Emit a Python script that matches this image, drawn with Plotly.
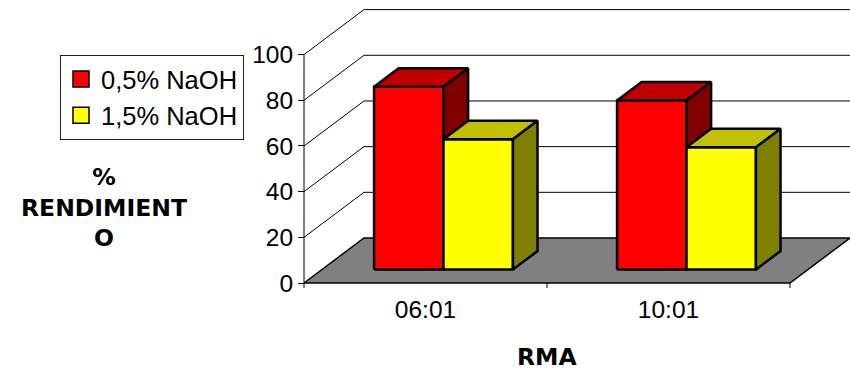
import plotly.graph_objects as go

# ---- data -------------------------------------------------------------
categories = ["06:01", "10:01"]
series_names = ["0,5% NaOH", "1,5% NaOH"]
naoh_05 = [80.0, 74.0]
naoh_15 = [57.0, 53.5]
y_ticks = [0, 20, 40, 60, 80, 100]
x_title = "RMA"
y_title_lines = ["%", "RENDIMIENT", "O"]

# face colours per series: front, top, side
front_colors = ["#FF0000", "#FFFF00"]
top_colors = ["#C00000", "#C0C000"]
side_colors = ["#800000", "#808000"]

# ---- page / projection layout -----------------------------------------
W, H = 850, 372
PLOT_L, PLOT_R, PLOT_T, PLOT_B = 300, 850, 4, 290
AXIS_PX = 304        # pixel column of the left category boundary
CAT_PX = 243         # pixel width of one category slot
ZERO_PX = 283        # pixel row of value 0 on the front plane
UNIT_PX = 2.284      # pixels per value unit
DEPTH_DX_PX, DEPTH_DY_PX = 60, 45   # oblique depth offset of the back wall

DX = DEPTH_DX_PX / CAT_PX
DY = DEPTH_DY_PX / UNIT_PX

x_lo = -0.5 - (AXIS_PX - PLOT_L) / CAT_PX
x_hi = -0.5 + (PLOT_R - AXIS_PX) / CAT_PX
y_lo = -(PLOT_B - ZERO_PX) / UNIT_PX
y_hi = (ZERO_PX - PLOT_T) / UNIT_PX

n_cat = len(categories)
x_left, x_right = -0.5, n_cat - 0.5
bar_w = 1.0 / (2 + 1.5)          # two bars + 150% gap per slot
depth_front, depth_back = 0.30, 0.71


def proj(x, v, d):
    """Oblique projection of (category x, value v, depth d) onto the plane."""
    return x + d * DX, v + d * DY


def paper_x(px):
    return (px - PLOT_L) / (PLOT_R - PLOT_L)


def paper_y(px):
    return (PLOT_B - px) / (PLOT_B - PLOT_T)


def poly(points, fill, lw=1.0, lc="black"):
    xs = [p[0] for p in points] + [points[0][0]]
    ys = [p[1] for p in points] + [points[0][1]]
    return go.Scatter(x=xs, y=ys, mode="lines", fill="toself", fillcolor=fill,
                      line=dict(color=lc, width=lw), hoverinfo="skip",
                      showlegend=False)


def segs(pairs, lw=1.0, color="black"):
    xs, ys = [], []
    for a, b in pairs:
        xs += [a[0], b[0], None]
        ys += [a[1], b[1], None]
    return go.Scatter(x=xs, y=ys, mode="lines", line=dict(color=color, width=lw),
                      hoverinfo="skip", showlegend=False)


fig = go.Figure()

# floor
fig.add_trace(poly([proj(x_left, 0, 0), proj(x_right, 0, 0),
                    proj(x_right, 0, 1), proj(x_left, 0, 1)], "#808080", lw=1.5))

# back wall gridlines
fig.add_trace(segs([(proj(x_left, v, 1), proj(x_right, v, 1)) for v in y_ticks if v > 0]))

# side wall diagonals
fig.add_trace(segs([(proj(x_left, v, 0), proj(x_left, v, 1)) for v in y_ticks if v > 0]))

# value axis line and category tick marks
tick_len = 5 / UNIT_PX
fig.add_trace(segs([((x_left, 0), (x_left, y_ticks[-1]))]))
fig.add_trace(segs([((x_left + k, 0), (x_left + k, -tick_len)) for k in range(n_cat + 1)]))

# 3-D bars
series = [naoh_05, naoh_15]
for ci in range(n_cat):
    for si, vals in enumerate(series):
        v = vals[ci]
        x0 = ci - bar_w + si * bar_w
        x1 = x0 + bar_w
        f0, f1 = depth_front, depth_back
        fig.add_trace(poly([proj(x0, 0, f0), proj(x1, 0, f0),
                            proj(x1, v, f0), proj(x0, v, f0)], front_colors[si], lw=2.5))
        fig.add_trace(poly([proj(x0, v, f0), proj(x1, v, f0),
                            proj(x1, v, f1), proj(x0, v, f1)], top_colors[si], lw=2.5))
        fig.add_trace(poly([proj(x1, 0, f0), proj(x1, 0, f1),
                            proj(x1, v, f1), proj(x1, v, f0)], side_colors[si], lw=2.5))

# legend entries
for si, name in enumerate(series_names):
    fig.add_trace(go.Scatter(x=[None], y=[None], mode="markers", name=name,
                             marker=dict(symbol="square", size=16, color=front_colors[si],
                                         line=dict(color="black", width=1.5))))

fig.update_layout(
    width=W, height=H,
    margin=dict(l=PLOT_L, r=W - PLOT_R, t=PLOT_T, b=H - PLOT_B, pad=0),
    paper_bgcolor="white", plot_bgcolor="white",
    font=dict(family="Liberation Sans, Arial, sans-serif", color="black"),
    xaxis=dict(range=[x_lo, x_hi], showgrid=False, zeroline=False, showline=False,
               tickmode="array", tickvals=list(range(n_cat)), ticktext=categories,
               ticks="", tickfont=dict(size=24.5), ticklabelstandoff=2),
    yaxis=dict(range=[y_lo, y_hi], showgrid=False, zeroline=False, showline=False,
               anchor="free", position=paper_x(AXIS_PX),
               tickmode="array", tickvals=y_ticks, ticks="outside", ticklen=6,
               tickcolor="black", tickwidth=1, tickfont=dict(size=24.5)),
    showlegend=True,
    legend=dict(x=paper_x(60), y=paper_y(55), xanchor="left", yanchor="top",
                bordercolor="#202020", borderwidth=1, bgcolor="white",
                font=dict(size=25.5, family="Liberation Sans, Arial, sans-serif"),
                tracegroupgap=0, itemwidth=30),
    annotations=[
        dict(xref="x", yref="paper", x=(x_left + x_right) / 2, y=paper_y(356.5),
             text="<b>" + x_title + "</b>", showarrow=False, yanchor="middle",
             font=dict(family="DejaVu Sans", size=23.5)),
        dict(xref="paper", yref="paper", x=paper_x(104), y=paper_y(207),
             text="<b>" + "<br>".join(y_title_lines) + "</b>", showarrow=False,
             xanchor="center", yanchor="middle", align="center",
             font=dict(family="DejaVu Sans", size=23.5)),
    ],
)

fig.write_html("out.html")
